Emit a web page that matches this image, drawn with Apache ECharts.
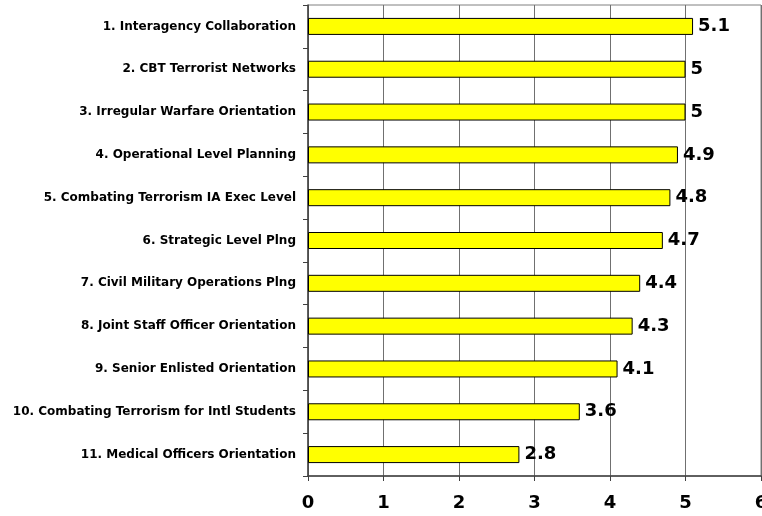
<!DOCTYPE html>
<html>
<head>
<meta charset="utf-8">
<script src="https://cdn.jsdelivr.net/npm/echarts@6/dist/echarts.min.js"></script>
<style>
  html, body { margin: 0; padding: 0; background: #fff; }
  #chart { width: 762px; height: 516px; }
</style>
</head>
<body>
<div id="chart"></div>
<script>
// Course categories, listed top to bottom
const categories = [
  '1. Interagency Collaboration',
  '2. CBT Terrorist Networks',
  '3. Irregular Warfare Orientation',
  '4. Operational Level Planning',
  '5. Combating Terrorism IA Exec Level',
  '6. Strategic Level Plng',
  '7. Civil Military Operations Plng',
  '8. Joint Staff Officer Orientation',
  '9. Senior Enlisted Orientation',
  '10. Combating Terrorism for Intl Students',
  '11. Medical Officers Orientation'
];

// Score for each course
const scores = [5.1, 5, 5, 4.9, 4.8, 4.7, 4.4, 4.3, 4.1, 3.6, 2.8];

// Value axis tick range
const axisMin = 0;
const axisMax = 6;
const axisStep = 1;

const chart = echarts.init(document.getElementById('chart'), null, { renderer: 'canvas' });

const labelFont = '"DejaVu Sans", Verdana, sans-serif';
const numFont = '"DejaVu Sans", Verdana, sans-serif';

chart.setOption({
  animation: false,
  backgroundColor: '#ffffff',
  grid: {
    left: 308,
    top: 5,
    width: 453,
    bottom: 40,
    outerBoundsMode: 'none',
    containLabel: false,
    show: true,
    borderColor: '#808080',
    borderWidth: 1,
    backgroundColor: 'transparent'
  },
  xAxis: {
    type: 'value',
    min: axisMin,
    max: axisMax,
    interval: axisStep,
    axisLine: { show: true, onZero: false, lineStyle: { color: '#404040', width: 1.5 } },
    axisTick: { show: true, length: 5, lineStyle: { color: '#404040', width: 1 } },
    splitLine: { show: true, lineStyle: { color: '#707070', width: 1 } },
    axisLabel: {
      margin: 18,
      color: '#000',
      fontFamily: numFont,
      fontWeight: 'bold',
      fontSize: 18
    }
  },
  yAxis: {
    type: 'category',
    data: categories,
    inverse: true,
    axisLine: { show: true, lineStyle: { color: '#404040', width: 1.5 } },
    axisTick: { show: true, length: 5, lineStyle: { color: '#404040', width: 1 } },
    axisLabel: {
      margin: 12,
      color: '#000',
      fontFamily: labelFont,
      fontWeight: 'bold',
      fontSize: 12
    }
  },
  series: [{
    type: 'bar',
    data: scores,
    barWidth: 17,
    itemStyle: { color: '#ffff00', borderColor: '#000', borderWidth: 1 },
    label: {
      show: true,
      position: 'right',
      distance: 5,
      color: '#000',
      fontFamily: numFont,
      fontWeight: 'bold',
      fontSize: 18
    }
  }]
});
</script>
</body>
</html>
